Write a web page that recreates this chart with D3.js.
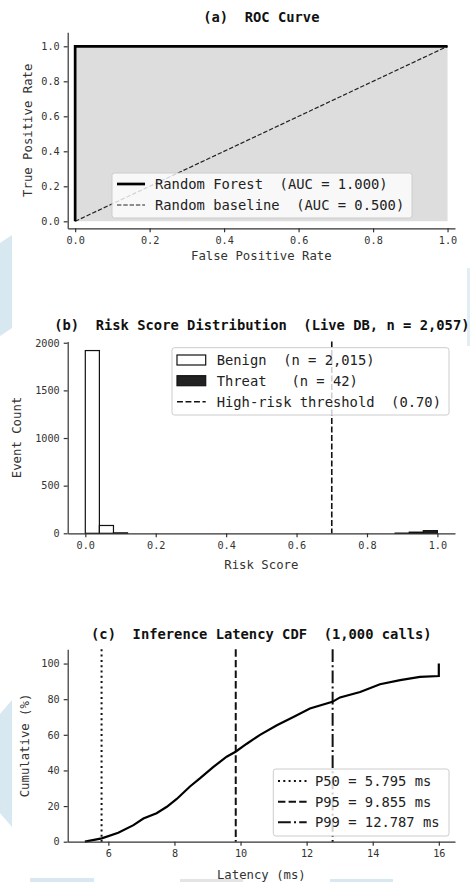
<!DOCTYPE html>
<html lang="en">
<head>
<meta charset="UTF-8">
<title>Model evaluation panels</title>
<script src="https://d3js.org/d3.v7.min.js"></script>
<style>
  html, body { margin: 0; padding: 0; background: #fff; }
  svg { display: block; font-family: "DejaVu Sans Mono", monospace; }
  .tick text { font-family: "DejaVu Sans Mono", monospace; font-size: 10.2px; fill: #333; }
  .tick line, .domain { stroke: #333; stroke-width: 1.2; }
  .title { font-size: 13.8px; font-weight: bold; fill: #111; }
  .label { font-size: 12.3px; fill: #333; }
  .leg { font-size: 13.8px; fill: #222; }
</style>
</head>
<body>
<div id="chart"></div>
<script>
// ---- data ----
// (a) ROC
const rocFpr = [0, 0, 1];
const rocTpr = [0, 1, 1];
const baseFpr = [0, 1];
const baseTpr = [0, 1];
const rocLegend = ["Random Forest  (AUC = 1.000)", "Random baseline  (AUC = 0.500)"];

// (b) risk score histogram, bins of width 0.04
const binStarts = [0, 0.04, 0.08, 0.12, 0.16, 0.20, 0.24, 0.28, 0.32, 0.36, 0.40, 0.44,
                   0.48, 0.52, 0.56, 0.60, 0.64, 0.68, 0.72, 0.76, 0.80, 0.84, 0.88, 0.92, 0.96];
const binWidth = 0.04;
const benignCounts = [1918, 82, 5, 0, 0, 0, 0, 0, 0, 0, 0, 0, 0, 0, 0, 0, 0, 0, 0, 0, 0, 0, 0, 0, 0];
const threatCounts = [0, 0, 0, 0, 0, 0, 0, 0, 0, 0, 0, 0, 0, 0, 0, 0, 0, 0, 0, 0, 0, 0, 2, 12, 28];
const threshold = 0.70;
const histLegend = ["Benign  (n = 2,015)", "Threat   (n = 42)", "High-risk threshold  (0.70)"];

// (c) latency CDF
const latencyMs = [5.29, 5.8, 6.3, 6.76, 7.06, 7.46, 7.77, 8.07, 8.47, 8.77, 9.18, 9.58, 9.85,
                   10.19, 10.59, 11.1, 11.6, 12.1, 12.78, 13.01, 13.62, 14.22, 14.83, 15.43, 16.0, 16.0];
const cumulativePct = [0, 1.9, 5, 9.3, 13, 16, 19.6, 24, 31, 35.5, 42, 47.7, 50.5,
                       55, 60, 65.4, 70, 74.8, 78.5, 81, 84, 88.4, 90.7, 92.5, 93, 100];
const pctNames = ["P50", "P95", "P99"];
const pctValues = [5.795, 9.855, 12.787];

// ---- styles ----
const pctDash = { P50: "2,3.3", P95: "7.4,3.2", P99: "12.8,3.2,2,3.2" };

const W = 470, H = 882;
const svg = d3.select("#chart").append("svg").attr("width", W).attr("height", H);

// faint page decorations from the source document
const deco = svg.append("g");
deco.append("polygon").attr("points", "0,243 12,235 12,328 0,336").attr("fill", "#d7e8f1");
deco.append("rect").attr("x", 467).attr("y", 268).attr("width", 3).attr("height", 78).attr("fill", "#e2eef4");
deco.append("polygon").attr("points", "0,714 12,700 12,827 0,813").attr("fill", "#d7e8f1");
deco.append("rect").attr("x", 30).attr("y", 878).attr("width", 64).attr("height", 4).attr("fill", "#d7e8f1");
deco.append("rect").attr("x", 180).attr("y", 879).attr("width", 63).attr("height", 3).attr("fill", "#e4e4e4");
deco.append("rect").attr("x", 330).attr("y", 879).attr("width", 63).attr("height", 3).attr("fill", "#d7e8f1");

const L = 67.7, R = 455;

function axes(g, x, y, yBottom, xTicks, yTicks, xFmt, yFmt) {
  g.append("g").attr("transform", `translate(0,${yBottom})`)
    .call(d3.axisBottom(x).tickValues(xTicks).tickFormat(xFmt).tickSize(4).tickPadding(4).tickSizeOuter(0));
  g.append("g").attr("transform", `translate(${L},0)`)
    .call(d3.axisLeft(y).tickValues(yTicks).tickFormat(yFmt).tickSize(4).tickPadding(4).tickSizeOuter(0));
}

function legendBox(g, x0, y0, w, h) {
  g.append("rect").attr("x", x0).attr("y", y0).attr("width", w).attr("height", h)
    .attr("rx", 2.5).attr("fill", "#fff").attr("fill-opacity", 0.8)
    .attr("stroke", "#cccccc").attr("stroke-width", 1);
}

// ---------- (a) ROC ----------
{
  const g = svg.append("g");
  const x = d3.scaleLinear().domain([-0.02, 1.02]).range([L, R]);
  const y = d3.scaleLinear().domain([-0.04, 1.08]).range([228.3, 32.3]);
  const pts = rocFpr.map((f, i) => [f, rocTpr[i]]);
  g.append("path").datum(pts)
    .attr("d", d3.area().x(d => x(d[0])).y0(y(0)).y1(d => y(d[1])))
    .attr("fill", "#dddddd");
  g.append("path").datum(baseFpr.map((f, i) => [f, baseTpr[i]]))
    .attr("d", d3.line().x(d => x(d[0])).y(d => y(d[1])))
    .attr("fill", "none").attr("stroke", "#222").attr("stroke-width", 1.2).attr("stroke-dasharray", "4.4,1.9");
  g.append("path").datum(pts)
    .attr("d", d3.line().x(d => x(d[0])).y(d => y(d[1])))
    .attr("fill", "none").attr("stroke", "#000").attr("stroke-width", 2.7);
  const fmt = d3.format(".1f");
  axes(g, x, y, 228.3, [0, 0.2, 0.4, 0.6, 0.8, 1.0], [0, 0.2, 0.4, 0.6, 0.8, 1.0], fmt, fmt);
  g.append("text").attr("class", "title").attr("x", (L + R) / 2).attr("y", 17)
    .attr("text-anchor", "middle").attr("dominant-baseline", "central").attr("xml:space", "preserve")
    .text("(a)  ROC Curve");
  g.append("text").attr("class", "label").attr("x", (L + R) / 2).attr("y", 256)
    .attr("text-anchor", "middle").attr("dominant-baseline", "central").text("False Positive Rate");
  g.append("text").attr("class", "label").attr("transform", `translate(28,130.3) rotate(-90)`)
    .attr("text-anchor", "middle").attr("dominant-baseline", "central").text("True Positive Rate");

  legendBox(g, 112, 173, 300, 45);
  const rows = [184, 205];
  g.append("line").attr("x1", 117).attr("x2", 145).attr("y1", rows[0]).attr("y2", rows[0])
    .attr("stroke", "#000").attr("stroke-width", 2.7);
  g.append("line").attr("x1", 117).attr("x2", 145).attr("y1", rows[1]).attr("y2", rows[1])
    .attr("stroke", "#222").attr("stroke-width", 1.2).attr("stroke-dasharray", "4.4,1.9");
  rocLegend.forEach((t, i) => g.append("text").attr("class", "leg").attr("x", 155).attr("y", rows[i])
    .attr("dominant-baseline", "central").attr("xml:space", "preserve").text(t));
}

// ---------- (b) histogram ----------
{
  const g = svg.append("g");
  const x = d3.scaleLinear().domain([-0.05, 1.05]).range([L, R]);
  const y = d3.scaleLinear().domain([0, 2012]).range([533.3, 341.6]);
  g.selectAll("rect.benign").data(binStarts.map((s, i) => ({ s, c: benignCounts[i] })).filter(d => d.c > 0))
    .join("rect").attr("class", "benign")
    .attr("x", d => x(d.s)).attr("width", d => x(d.s + binWidth) - x(d.s))
    .attr("y", d => y(d.c)).attr("height", d => y(0) - y(d.c))
    .attr("fill", "#fff").attr("stroke", "#111").attr("stroke-width", 1.2);
  g.selectAll("rect.threat").data(binStarts.map((s, i) => ({ s, c: threatCounts[i] })).filter(d => d.c > 0))
    .join("rect").attr("class", "threat")
    .attr("x", d => x(d.s)).attr("width", d => x(d.s + binWidth) - x(d.s))
    .attr("y", d => y(d.c)).attr("height", d => y(0) - y(d.c))
    .attr("fill", "#222").attr("stroke", "#111").attr("stroke-width", 1.2);
  g.append("line").attr("x1", x(threshold)).attr("x2", x(threshold)).attr("y1", 341.6).attr("y2", 533.3)
    .attr("stroke", "#111").attr("stroke-width", 1.6).attr("stroke-dasharray", "5.9,2.6");
  axes(g, x, y, 533.3, [0, 0.2, 0.4, 0.6, 0.8, 1.0], [0, 500, 1000, 1500, 2000], d3.format(".1f"), d3.format("d"));
  g.append("text").attr("class", "title").attr("x", (L + R) / 2 + 0.5).attr("y", 325)
    .attr("text-anchor", "middle").attr("dominant-baseline", "central").attr("xml:space", "preserve")
    .text("(b)  Risk Score Distribution  (Live DB, n = 2,057)");
  g.append("text").attr("class", "label").attr("x", (L + R) / 2).attr("y", 565)
    .attr("text-anchor", "middle").attr("dominant-baseline", "central").text("Risk Score");
  g.append("text").attr("class", "label").attr("transform", `translate(16.7,437.5) rotate(-90)`)
    .attr("text-anchor", "middle").attr("dominant-baseline", "central").text("Event Count");

  legendBox(g, 172, 347.7, 277, 67.3);
  const rows = [360, 380.7, 401.7];
  g.append("rect").attr("x", 177).attr("y", rows[0] - 5).attr("width", 28.7).attr("height", 10)
    .attr("fill", "#fff").attr("stroke", "#111").attr("stroke-width", 1.2);
  g.append("rect").attr("x", 177).attr("y", rows[1] - 5).attr("width", 28.7).attr("height", 10)
    .attr("fill", "#222").attr("stroke", "#111").attr("stroke-width", 1.2);
  g.append("line").attr("x1", 177).attr("x2", 205.7).attr("y1", rows[2]).attr("y2", rows[2])
    .attr("stroke", "#111").attr("stroke-width", 1.6).attr("stroke-dasharray", "5.9,2.6");
  histLegend.forEach((t, i) => g.append("text").attr("class", "leg").attr("x", 216.7).attr("y", rows[i])
    .attr("dominant-baseline", "central").attr("xml:space", "preserve").text(t));
}

// ---------- (c) latency CDF ----------
{
  const g = svg.append("g");
  const x = d3.scaleLinear().domain([4.77, 16.49]).range([L, R]);
  const y = d3.scaleLinear().domain([0, 108]).range([841.7, 649.3]);
  pctNames.forEach((n, i) => {
    g.append("line").attr("x1", x(pctValues[i])).attr("x2", x(pctValues[i])).attr("y1", 649.3).attr("y2", 841.7)
      .attr("stroke", "#111").attr("stroke-width", 2).attr("stroke-dasharray", pctDash[n]);
  });
  g.append("path").datum(latencyMs.map((v, i) => [v, cumulativePct[i]]))
    .attr("d", d3.line().x(d => x(d[0])).y(d => y(d[1])))
    .attr("fill", "none").attr("stroke", "#000").attr("stroke-width", 2.2).attr("stroke-linejoin", "miter");
  axes(g, x, y, 841.7, [6, 8, 10, 12, 14, 16], [0, 20, 40, 60, 80, 100], d3.format("d"), d3.format("d"));
  g.append("text").attr("class", "title").attr("x", (L + R) / 2).attr("y", 634)
    .attr("text-anchor", "middle").attr("dominant-baseline", "central").attr("xml:space", "preserve")
    .text("(c)  Inference Latency CDF  (1,000 calls)");
  g.append("text").attr("class", "label").attr("x", (L + R) / 2).attr("y", 875)
    .attr("text-anchor", "middle").attr("dominant-baseline", "central").text("Latency (ms)");
  g.append("text").attr("class", "label").attr("transform", `translate(25,745.5) rotate(-90)`)
    .attr("text-anchor", "middle").attr("dominant-baseline", "central").text("Cumulative (%)");

  legendBox(g, 273.3, 769, 175.7, 67);
  const rows = [781, 801.7, 822.3];
  pctNames.forEach((n, i) => {
    g.append("line").attr("x1", 278).attr("x2", 306.7).attr("y1", rows[i]).attr("y2", rows[i])
      .attr("stroke", "#111").attr("stroke-width", 2).attr("stroke-dasharray", pctDash[n]);
    g.append("text").attr("class", "leg").attr("x", 315).attr("y", rows[i])
      .attr("dominant-baseline", "central").attr("xml:space", "preserve")
      .text(`${n} = ${d3.format(".3f")(pctValues[i])} ms`);
  });
}
</script>
</body>
</html>
